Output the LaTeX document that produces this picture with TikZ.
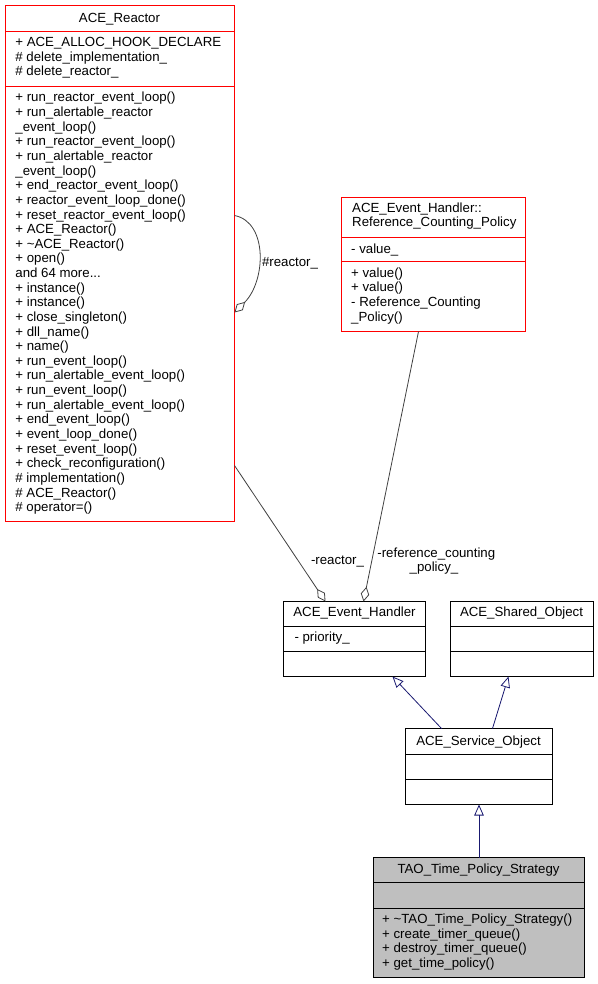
\documentclass[tikz,border=0pt]{standalone}
\usepackage{fontspec}
\setmainfont{Liberation Sans}
\usetikzlibrary{arrows.meta,calc}
\definecolor{edgegray}{HTML}{404040}
\definecolor{inhblue}{HTML}{191970}
\definecolor{boxred}{HTML}{FF0000}
\definecolor{focusgray}{HTML}{BFBFBF}
\newcommand\mythreedots{...}
\newcommand\classlines[4]{%
  \foreach \mytext [count=\myi from 0] in {#4} {%
    \node[txt, anchor=base west, name=#3\myi] at ({#1}, {-(#2) - 14.63*\myi}) {\mytext};}}
\begin{document}
\begin{tikzpicture}[x=1pt, y=1pt,
  every node/.style={font=\fontsize{13.25}{14.63}\selectfont},
  txt/.style={inner sep=0pt, outer sep=0pt, text=black},
  title/.style={txt, anchor=base},
  classbox/.style={anchor=north west, inner sep=0pt, outer sep=0pt},
  redsep/.style={draw=boxred, line width=1.1pt},
  blacksep/.style={draw=black, line width=1.1pt},
  agg/.style={draw=edgegray, line width=0.8pt, -{Diamond[open, length=15, width=8.5, line width=0.8pt]}},
  inh/.style={draw=inhblue, line width=0.8pt, -{Triangle[open, length=11, width=9.5, line width=0.8pt]}}
]
\useasboundingbox (0,0) rectangle (597,-984);

% ---------------- ACE_Reactor ----------------
\node[classbox, minimum width=229, minimum height=516] (reactor) at (5.5,-5.5) {};
\draw[redsep] (reactor.north west) rectangle (reactor.south east);
\draw[redsep] (reactor.west |- 0,-31.5) -- (reactor.east |- 0,-31.5);
\draw[redsep] (reactor.west |- 0,-86.5) -- (reactor.east |- 0,-86.5);
\node[title] (reactortitle) at (119.5,-22.3) {ACE\_Reactor};
\classlines{15.4}{46.7}{ra}{+ ACE\_ALLOC\_HOOK\_DECLARE, \# delete\_implementation\_, \# delete\_reactor\_}
\classlines{15.4}{102}{rm}{+ run\_reactor\_event\_loop(), + run\_alertable\_reactor, \_event\_loop(), + run\_reactor\_event\_loop(), + run\_alertable\_reactor, \_event\_loop(), + end\_reactor\_event\_loop(), + reactor\_event\_loop\_done(), + reset\_reactor\_event\_loop(), + ACE\_Reactor(), + \textasciitilde ACE\_Reactor(), + open(), and 64 more\mythreedots, + instance(), + instance(), + close\_singleton(), + dll\_name(), + name(), + run\_event\_loop(), + run\_alertable\_event\_loop(), + run\_event\_loop(), + run\_alertable\_event\_loop(), + end\_event\_loop(), + event\_loop\_done(), + reset\_event\_loop(), + check\_reconfiguration(), \# implementation(), \# ACE\_Reactor(), \# operator=()}

% ---------------- Reference_Counting_Policy ----------------
\node[classbox, minimum width=184, minimum height=134] (ref) at (341.5,-197.5) {};
\draw[redsep] (ref.north west) rectangle (ref.south east);
\draw[redsep] (ref.west |- 0,-237.5) -- (ref.east |- 0,-237.5);
\draw[redsep] (ref.west |- 0,-261.5) -- (ref.east |- 0,-261.5);
\node[txt, anchor=base west] (reftitle1) at (352.2,-212.7) {ACE\_Event\_Handler::};
\node[txt, anchor=base west] (reftitle2) at (352.2,-226.7) {Reference\_Counting\_Policy};
\classlines{351.2}{253.3}{fa}{- value\_}
\classlines{351.2}{277.3}{fm}{+ value(), + value(), - Reference\_Counting, \_Policy()}

% ---------------- ACE_Event_Handler ----------------
\node[classbox, minimum width=142, minimum height=75] (eh) at (283.5,-601.5) {};
\draw[blacksep] (eh.north west) rectangle (eh.south east);
\draw[blacksep] (eh.west |- 0,-626.5) -- (eh.east |- 0,-626.5);
\draw[blacksep] (eh.west |- 0,-651.5) -- (eh.east |- 0,-651.5);
\node[title] (ehtitle) at (354.5,-616.7) {ACE\_Event\_Handler};
\classlines{294.5}{641.2}{ea}{- priority\_}

% ---------------- ACE_Shared_Object ----------------
\node[classbox, minimum width=143, minimum height=75] (so) at (450.5,-601.5) {};
\draw[blacksep] (so.north west) rectangle (so.south east);
\draw[blacksep] (so.west |- 0,-626.5) -- (so.east |- 0,-626.5);
\draw[blacksep] (so.west |- 0,-651.5) -- (so.east |- 0,-651.5);
\node[title] (sotitle) at (521.5,-616.7) {ACE\_Shared\_Object};

% ---------------- ACE_Service_Object ----------------
\node[classbox, minimum width=147, minimum height=76] (svc) at (405.5,-728.5) {};
\draw[blacksep] (svc.north west) rectangle (svc.south east);
\draw[blacksep] (svc.west |- 0,-754.5) -- (svc.east |- 0,-754.5);
\draw[blacksep] (svc.west |- 0,-779.5) -- (svc.east |- 0,-779.5);
\node[title] (svctitle) at (478.5,-745) {ACE\_Service\_Object};

% ---------------- TAO_Time_Policy_Strategy ----------------
\node[classbox, fill=focusgray, minimum width=211, minimum height=120] (tao) at (373.5,-857.5) {};
\draw[blacksep] (tao.north west) rectangle (tao.south east);
\draw[blacksep] (tao.west |- 0,-882.5) -- (tao.east |- 0,-882.5);
\draw[blacksep] (tao.west |- 0,-908.5) -- (tao.east |- 0,-908.5);
\node[title] (taotitle) at (478.5,-873.3) {TAO\_Time\_Policy\_Strategy};
\classlines{382.2}{923.7}{tm}{+ \textasciitilde TAO\_Time\_Policy\_Strategy(), + create\_timer\_queue(), + destroy\_timer\_queue(), + get\_time\_policy()}

% ---------------- connectors ----------------
\draw[agg] ([yshift=-210]reactor.north east) .. controls (268,-222) and (266,-281) .. ([yshift=-307]reactor.north east);
\node[txt, anchor=base west] (lblself) at (262,-266.5) {\#reactor\_};

\draw[agg] ([yshift=56]reactor.south east) -- ([xshift=42]eh.north west);
\node[txt, anchor=base west] (lblreactor) at (311,-564.3) {-reactor\_};

\draw[agg] ([xshift=-15]ref.south) -- ([xshift=80]eh.north west);
\node[title] (lblref1) at (436.3,-557.3) {-reference\_counting};
\node[title] (lblref2) at (434,-571.7) {\_policy\_};

\draw[inh] ([xshift=36]svc.north west) -- ([xshift=-33]eh.south east);
\draw[inh] ([xshift=87]svc.north west) -- ([xshift=58]so.south west);
\draw[inh] (tao.north) -- (svc.south);
\end{tikzpicture}
\end{document}
